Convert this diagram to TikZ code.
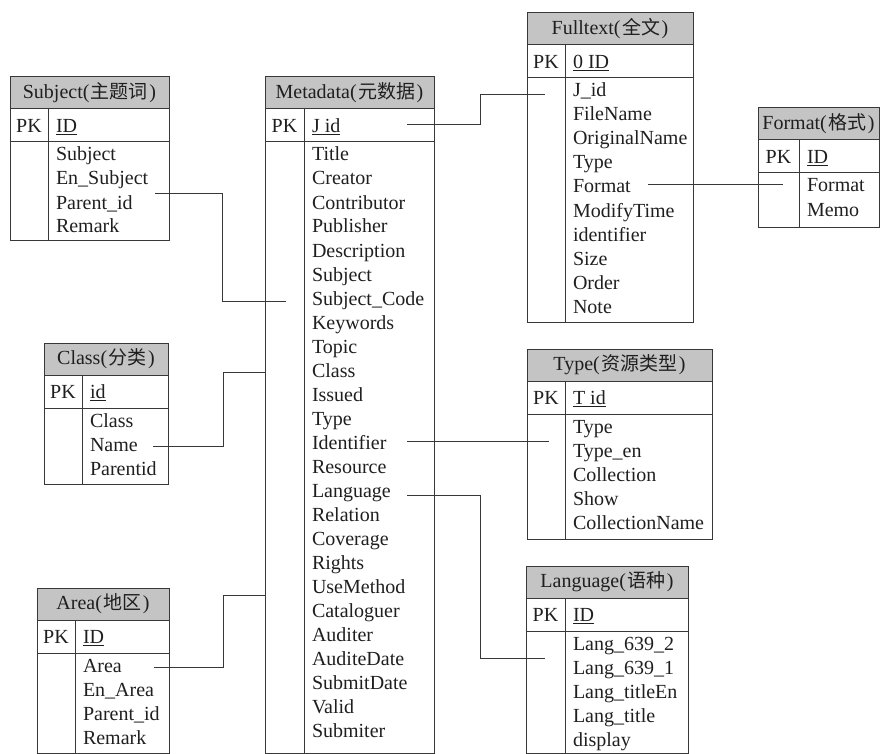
\documentclass[tikz,border=0pt]{standalone}
\usepackage{fontspec}
\setmainfont{Liberation Serif}
\newfontfamily\cjk[Scale=0.95]{Noto Sans CJK SC}
\newcommand\zh[1]{(\hspace{1.5pt}{\cjk #1}\hspace{1.5pt})}
\tikzset{
  tline/.style={draw=black!78, line width=1pt},
  hdr/.style={tline, fill=black!23, rectangle, inner sep=0pt, outer sep=0pt, minimum height=32pt, text=black!88, font=\fontsize{20}{24}\selectfont},
  cellbox/.style={tline, rectangle, inner sep=0pt, outer sep=0pt},
  txt/.style={inner sep=0pt, outer sep=0pt, text=black!88, font=\fontsize{20}{24}\selectfont},
  conn/.style={draw=black!78, line width=1pt},
}
% #1 name, #2 left x, #3 top y, #4 right x, #5 divider x, #6 bottom y, #7 title, #8 key, #9 fields
\newcommand\ertable[9]{%
  \node[hdr, minimum width={(#4-#2)*1pt}, anchor=north west] (#1-h) at (#2,#3) {#7};
  \node[cellbox, minimum width={(#4-#2)*1pt}, minimum height=33pt, anchor=north west] (#1-pkrow) at (#1-h.south west) {};
  \node[cellbox, minimum width={(#4-#2)*1pt}, minimum height={(#6-#3-65)*1pt}, anchor=north west] (#1-b) at (#1-pkrow.south west) {};
  \draw[tline] (#5,{#3+32}) -- (#5,#6);
  \coordinate (#1-k) at (#5,{#3+48.5});
  \node[txt, anchor=base] (#1-pk) at ({(#2+#5)/2},{#3+55.5}) {PK};
  \node[txt, anchor=base west] (#1-key) at ({#5+8},{#3+55.5}) {\underline{#8}};
  \foreach \f [count=\i] in {#9} {
    \coordinate (#1-r\i) at (#5,{#3+77+24*(\i-1)});
    \node[txt, anchor=base west] (#1-\i) at ({#5+8},{#3+84+24*(\i-1)}) {\f};
  }%
}
\begin{document}
\begin{tikzpicture}[x=1pt,y=-1pt]
\useasboundingbox (0,0) rectangle (891,754);

\ertable{subject}{10}{77}{169}{48}{240}{Subject\zh{主题词}}{ID}{Subject,En\_Subject,Parent\_id,Remark}
\ertable{metadata}{265}{77}{434}{304}{753}{Metadata\zh{元数据}}{J id}{Title,Creator,Contributor,Publisher,Description,Subject,Subject\_Code,Keywords,Topic,Class,Issued,Type,Identifier,Resource,Language,Relation,Coverage,Rights,UseMethod,Cataloguer,Auditer,AuditeDate,SubmitDate,Valid,Submiter}
\ertable{fulltext}{527}{13}{693}{565}{322}{Fulltext\zh{全文}}{0 ID}{J\_id,FileName,OriginalName,Type,Format,ModifyTime,identifier,Size,Order,Note}
\ertable{format}{758}{108}{879}{799}{227}{Format\zh{格式}}{ID}{Format,Memo}
\ertable{class}{44}{343}{168}{82}{484}{Class\zh{分类}}{id}{Class,Name,Parentid}
\ertable{type}{527}{349}{712}{565}{539}{Type\zh{资源类型}}{T id}{Type,Type\_en,Collection,Show,CollectionName}
\ertable{language}{526}{566}{688}{565}{753}{Language\zh{语种}}{ID}{Lang\_639\_2,Lang\_639\_1,Lang\_titleEn,Lang\_title,display}
\ertable{area}{37}{588}{169}{75}{753}{Area\zh{地区}}{ID}{Area,En\_Area,Parent\_id,Remark}

% connectors
\draw[conn] ([xshift=-14pt,yshift=8pt]subject-r3 -| subject-b.east) -- ++(67,0)
  |- ([xshift=21pt,yshift=-3pt]metadata-r7 -| metadata-b.west);
\draw[conn] ([xshift=-15pt,yshift=-2pt]class-r2 -| class-b.east) -- ++(70,0)
  |- ([yshift=-2pt]metadata-r10 -| metadata-b.west);
\draw[conn] ([xshift=-15pt,yshift=-2pt]area-r1 -| area-b.east) -- ++(69,0)
  |- ([yshift=-9pt]metadata-r19 -| metadata-b.west);
\draw[conn] ([xshift=-27pt,yshift=0.5pt]metadata-k -| metadata-b.east) -- ++(73,0)
  |- ([xshift=18pt,yshift=-5pt]fulltext-r1 -| fulltext-b.west);
\coordinate (idstart) at ([xshift=-27pt,yshift=1pt]metadata-r13 -| metadata-b.east);
\draw[conn] (idstart) -- ([xshift=22pt]idstart -| type-b.west);
\draw[conn] ([xshift=-27pt,yshift=-5pt]metadata-r15 -| metadata-b.east) -- ++(73,0)
  |- ([xshift=19pt,yshift=-15pt]language-r1 -| language-b.west);
\coordinate (fmtstart) at ([xshift=-45pt,yshift=1pt]fulltext-r5 -| fulltext-b.east);
\draw[conn] (fmtstart) -- ([xshift=25pt]fmtstart -| format-b.west);
\end{tikzpicture}
\end{document}
